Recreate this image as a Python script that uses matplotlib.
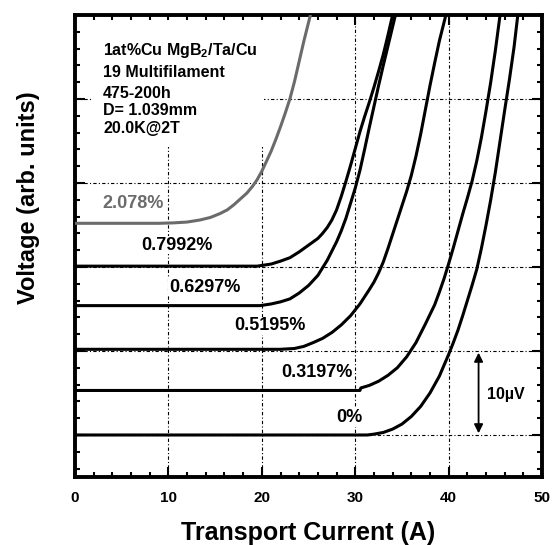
import matplotlib
matplotlib.use("Agg")
import matplotlib.pyplot as plt
from matplotlib.patches import Rectangle

plt.rcParams['font.family'] = ['Liberation Sans', 'DejaVu Sans']
plt.rcParams['mathtext.fontset'] = 'custom'
plt.rcParams['mathtext.rm'] = 'Liberation Sans'
plt.rcParams['mathtext.bf'] = 'Liberation Sans:bold'

# ---- data (current in A, voltage in arbitrary units; curves offset vertically) ----
i_0 = [-0.3, 31.3, 32, 33, 34, 35, 36, 37, 38, 39, 40, 40.5, 41, 41.5, 42, 42.5, 43,
       43.5, 44, 44.5, 45, 45.5, 46, 46.5, 47, 47.4]
v_0 = [0.0, 0.0, 0.1, 0.3, 0.7, 1.3, 2.2, 3.4, 5.0, 7.0, 9.6, 11.0, 12.5, 14.2, 16.0, 17.8, 19.7,
       22.2, 25.0, 28.0, 31.3, 35.0, 38.7, 42.3, 46.2, 50.0]

i_3197 = [-0.3, 30.5, 30.6, 31.5, 32.5, 33.5, 34.5, 35.5, 36.5, 37.5, 38.5, 39, 39.5, 40, 40.5,
          41, 41.5, 42, 42.5, 43, 43.5, 44, 44.5, 45, 45.5]
v_3197 = [5.3, 5.3, 5.6, 5.9, 6.4, 7.1, 8.0, 9.3, 11.0, 13.2, 15.5, 17.0, 18.6, 20.4, 22.3,
          24.3, 26.3, 28.2, 30.2, 32.6, 35.4, 38.6, 42.0, 45.8, 50.0]

i_5195 = [-0.3, 22, 23.5, 24.5, 25.5, 26.5, 27.5, 28.5, 29.5, 30.5, 31.5, 32, 32.5, 33, 33.5,
          34, 34.5, 35, 35.5, 36, 36.5, 37, 37.5, 38, 38.5, 39, 39.7]
v_5195 = [10.2, 10.2, 10.3, 10.55, 11.0, 11.5, 12.2, 13.1, 14.2, 15.6, 17.3, 18.2, 19.3, 20.6, 22.2,
          23.9, 25.6, 27.3, 29.0, 30.9, 33.2, 35.8, 38.7, 41.6, 44.3, 46.9, 50.0]

i_6297 = [-0.3, 19.8, 21, 22, 23, 24, 25, 26, 27, 27.5, 28, 28.5, 29, 29.5, 30, 30.5, 31, 31.5,
          32, 32.5, 33, 33.5, 34.3]
v_6297 = [15.4, 15.4, 15.6, 15.85, 16.2, 16.9, 17.8, 19.0, 20.8, 21.9, 23.0, 24.3, 25.8, 27.6, 29.4,
          31.5, 34.0, 36.6, 39.1, 41.6, 44.0, 46.3, 50.0]

i_7992 = [-0.3, 19.5, 21, 22, 23, 24, 25, 26, 26.5, 27, 27.5, 28, 28.5, 29, 29.5, 30, 30.5, 31,
          31.5, 32, 32.5, 33, 33.5, 34.0]
v_7992 = [20.1, 20.1, 20.35, 20.7, 21.1, 21.8, 22.6, 23.4, 24.0, 24.7, 25.6, 26.8, 28.4, 30.2, 32.1,
          34.1, 36.1, 37.9, 39.6, 41.4, 43.3, 45.3, 47.6, 50.0]

i_2078 = [-0.3, 9, 10.5, 12, 13.4, 14.5, 15.5, 16.3, 17, 17.7, 18.4, 19, 19.5, 20, 20.5, 21,
          21.5, 22, 22.5, 23, 23.5, 24, 24.5, 25.2]
v_2078 = [25.2, 25.2, 25.25, 25.35, 25.6, 25.9, 26.35, 26.8, 27.4, 28.1, 28.8, 29.6, 30.4, 31.4,
          32.6, 33.8, 35.2, 36.7, 38.3, 40.0, 42.1, 44.5, 46.9, 50.0]

curve_labels = ['0%', '0.3197%', '0.5195%', '0.6297%', '0.7992%', '2.078%']
label_x = [29.4, 25.9, 20.9, 13.9, 10.9, 6.2]
label_y = [2.1, 7.4, 13.0, 17.6, 22.6, 27.6]

x_ticks = [0, 10, 20, 30, 40, 50]
info_lines = ['1at%Cu MgB$_\\mathbf{2}$/Ta/Cu', '19 Multifilament', '475-200h',
              'D= 1.039mm', '20.0K@2T']
info_y = [45.8, 43.1, 40.7, 38.6, 36.5]

# ---- figure ----
fig = plt.figure(figsize=(5.56, 5.45), dpi=100)
ax = fig.add_axes([0.1349, 0.1248, 0.8401, 0.8477])
ax.set_xlim(0, 50)
ax.set_ylim(-5, 50)

ax.set_xticks(x_ticks)
ax.set_xticks(range(0, 51, 2), minor=True)
ax.set_yticks(range(0, 51, 10))
ax.set_yticks(range(-4, 51, 2), minor=True)
ax.set_yticklabels([])
ax.set_xticklabels([str(t) for t in x_ticks], fontsize=11, fontweight='bold')

ax.tick_params(which='both', direction='in', top=True, right=True, width=1.5, color='k')
ax.tick_params(which='major', length=7, pad=10)
ax.tick_params(which='minor', length=3.5)
for s in ax.spines.values():
    s.set_linewidth(2.8)

ax.grid(True, which='major', linestyle=(0, (3, 2, 1, 2)), linewidth=0.8, color='k', zorder=1)
ax.set_axisbelow(True)

# white block behind info text
ax.add_patch(Rectangle((0.035, 0.714), 0.37, 0.275, transform=ax.transAxes,
                       facecolor='white', edgecolor='none', zorder=1.5))

curves = [(i_0, v_0, 'k'), (i_3197, v_3197, 'k'), (i_5195, v_5195, 'k'),
          (i_6297, v_6297, 'k'), (i_7992, v_7992, 'k'), (i_2078, v_2078, '#6b6b6b')]
for (ci, cv, col) in curves:
    ax.plot(ci, cv, color=col, lw=2.2, solid_joinstyle='round', zorder=3)

for lab, lx, ly, (_, _, col) in zip(curve_labels, label_x, label_y, curves):
    ax.text(lx, ly, lab, ha='center', va='center', fontsize=13, fontweight='bold',
            color=col, zorder=2.5,
            bbox=dict(facecolor='white', edgecolor='none', pad=0.5))

for line, y in zip(info_lines, info_y):
    ax.text(3.0, y, line, ha='left', va='center', fontsize=11.5, fontweight='bold', zorder=4)

# 10 µV scale arrow
ax.annotate('', xy=(43.2, 9.8), xytext=(43.2, 0.2),
            arrowprops=dict(arrowstyle='<|-|>', color='k', lw=1.3, mutation_scale=13,
                            shrinkA=0, shrinkB=0), zorder=4)
ax.text(46.1, 4.8, '10µV', ha='center', va='center', fontsize=11.5, fontweight='bold', zorder=4)

ax.set_xlabel('Transport Current (A)', fontsize=18, fontweight='bold')
ax.xaxis.set_label_coords(0.5, -0.121)
ax.xaxis.label.set_va('center')
ax.set_ylabel('Voltage (arb. units)', fontsize=17, fontweight='bold')
ax.yaxis.set_label_coords(-0.1006, 0.604)
ax.yaxis.label.set_va('center')

fig.savefig('out.png', dpi=100)
